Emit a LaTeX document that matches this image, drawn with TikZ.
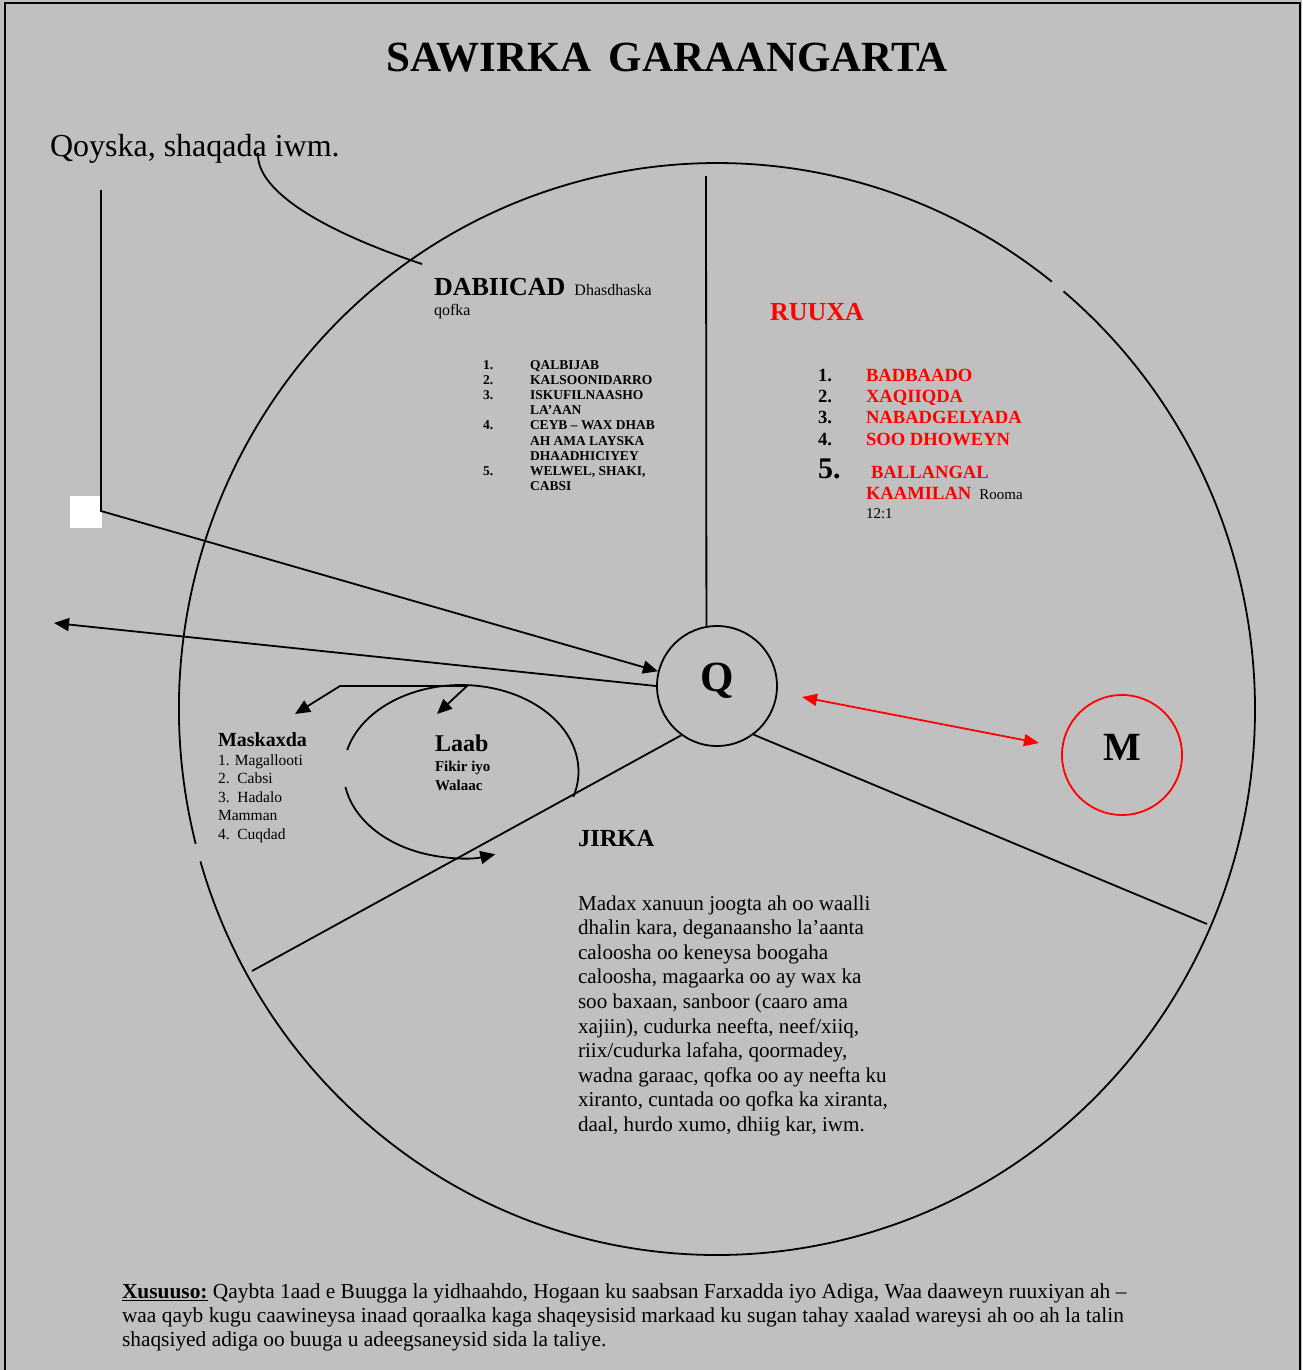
\documentclass[tikz,border=0pt]{standalone}
\usepackage{fontspec}
\setmainfont{Liberation Serif}
\usetikzlibrary{arrows.meta}
\definecolor{bggray}{RGB}{192,192,192}
\definecolor{myred}{RGB}{255,0,0}
\newcommand{\myfs}[2]{\fontsize{#1}{#2}\selectfont}
\begin{document}
\begin{tikzpicture}[x=1pt,y=-1pt,line width=1.8pt,
  txt/.style={anchor=base west,inner sep=0pt,outer sep=0pt},
  arr/.style={-{Triangle[length=15pt,width=13pt]}},
  rarr/.style={{Triangle[length=15pt,width=12pt]}-{Triangle[length=15pt,width=12pt]},draw=myred},
  bigc/.style={circle,draw,minimum size=120pt,inner sep=0pt,line width=1.8pt}]
\useasboundingbox (0,0) rectangle (1302,1370);
\fill[bggray] (0,0) rectangle (1302,1370);
\draw[line width=2.5pt] (5,1372) -- (5,3) -- (1300,3) -- (1300,1372);

% big ellipse with two gaps
\draw (717,709) ++({538*cos(-49.9)},{546*sin(-49.9)}) arc[start angle=-49.9,end angle=163.8,x radius=538,y radius=546];
\draw (717,709) ++({538*cos(165.7)},{546*sin(165.7)}) arc[start angle=165.7,end angle=308.5,x radius=538,y radius=546];

% nodes
\node[bigc,label={[inner sep=0pt,yshift=5pt,font=\myfs{43}{43}\bfseries]center:Q}] (Q) at (717,686) {};
\node[bigc,draw=myred,label={[inner sep=0pt,yshift=8pt,font=\myfs{40}{40}\bfseries]center:M}] (M) at (1122,755) {};
\node[fill=white,minimum size=32pt,inner sep=0pt] (sq) at (86,512) {};

% coordinates
\coordinate (vtop) at (706,176);
\coordinate (ll) at (252,971);
\coordinate (lr) at (1207,924);
\coordinate (sqtop) at (101,190);
\coordinate (sqc) at (101,511);
\coordinate (larr) at (54,623);
\coordinate (ra1) at (802,697);
\coordinate (ra2) at (1039,743);
\coordinate (cs) at (258,153);
\coordinate (ce) at (422,264);
\coordinate (b1) at (340,686);
\coordinate (b2) at (467,686);
\coordinate (m1) at (295,714);
\coordinate (l1) at (437,714);

% connectors
\draw (Q.100) -- (vtop);
\draw (Q.234) -- (ll);
\draw (Q.307) -- (lr);
\draw[arr] (sqtop) -- (sqc) -- (Q.166);
\draw[arr] (Q.west) -- (larr);
\draw[rarr] (ra1) -- (ra2);
\draw (cs) .. controls (256,190) and (320,230) .. (ce);
\draw[{Triangle[length=15pt,width=13pt]}-{Triangle[length=15pt,width=13pt]}] (m1) -- (b1) -- (b2) -- (l1);

% Laab ellipse
\draw (461,771.5) ++({117.5*cos(194.4)},{86.5*sin(194.4)}) arc[start angle=194.4,end angle=377.1,x radius=117.5,y radius=86.5];
\draw[arr] (461,771.5) ++({117.5*cos(169.7)},{86.5*sin(169.7)}) arc[start angle=169.7,end angle=73,x radius=117.5,y radius=86.5];

% texts
\node[anchor=base,inner sep=0pt] (title) at (667,72) {\myfs{43}{43}\bfseries SAWIRKA\hspace{17pt}GARAANGARTA};
\node[txt] (qoy) at (50,157) {\myfs{32}{32}Qoyska, shaqada iwm.};

\node[txt] (dab) at (434,295) {\myfs{26}{26}\textbf{DABIICAD}\hspace{9pt}{\myfs{16}{16}Dhasdhaska}};
\node[txt] (dab2) at (434,315) {\myfs{16}{16}qofka};
\node[txt] (dlist) at (483,369) {\myfs{13.5}{15.2}\bfseries\begin{tabular}[t]{@{}p{47pt}@{}l@{}}
1.&QALBIJAB\\
2.&KALSOONIDARRO\\
3.&ISKUFILNAASHO\\
&LA’AAN\\
4.&CEYB – WAX DHAB\\
&AH AMA LAYSKA\\
&DHAADHICIYEY\\
5.&WELWEL, SHAKI,\\
&CABSI
\end{tabular}};

\node[txt,text=myred] (ruuxa) at (770,320) {\myfs{26}{26}\bfseries RUUXA};
\node[txt] (rlist) at (818,381) {\myfs{18.6}{21.4}\bfseries\begin{tabular}[t]{@{}p{48pt}@{}l@{}}
1.&\textcolor{myred}{BADBAADO}\\
2.&\textcolor{myred}{XAQIIQDA}\\
3.&\textcolor{myred}{NABADGELYADA}\\
4.&\textcolor{myred}{SOO DHOWEYN}
\end{tabular}};
\node[txt] (r5) at (818,478) {\myfs{30}{30}\bfseries 5.};
\node[txt,text=myred] (r5a) at (871,478) {\myfs{18.6}{18.6}\bfseries BALLANGAL};
\node[txt] (r5b) at (866,499.5) {\myfs{18.6}{18.6}\textcolor{myred}{\bfseries KAAMILAN}\hspace{8pt}{\myfs{15}{15}Rooma}};
\node[txt] (r5c) at (866,518.5) {\myfs{15}{15}12:1};

\node[txt] (mask) at (218,746.7) {\myfs{20}{20}\bfseries Maskaxda};
\node[txt] (mlist) at (218,765) {\myfs{15.5}{18.6}\begin{tabular}[t]{@{}l@{}}
1. Magallooti\\
2.\ \ Cabsi\\
3.\ \ Hadalo\\
Mamman\\
4.\ \ Cuqdad
\end{tabular}};

\node[txt] (laab) at (435,751) {\myfs{24}{24}\bfseries Laab};
\node[txt] (laab2) at (435,771.7) {\myfs{15}{18.4}\bfseries\begin{tabular}[t]{@{}l@{}}
Fikir iyo\\
Walaac
\end{tabular}};

\node[txt] (jirka) at (578,846.7) {\myfs{24.5}{24.5}\bfseries JIRKA};
\node[txt] (jtext) at (578,910) {\myfs{21.1}{24.6}\begin{tabular}[t]{@{}l@{}}
Madax xanuun joogta ah oo waalli\\
dhalin kara, deganaansho la’aanta\\
caloosha oo keneysa boogaha\\
caloosha, magaarka oo ay wax ka\\
soo baxaan, sanboor (caaro ama\\
xajiin), cudurka neefta, neef/xiiq,\\
riix/cudurka lafaha, qoormadey,\\
wadna garaac, qofka oo ay neefta ku\\
xiranto, cuntada oo qofka ka xiranta,\\
daal, hurdo xumo, dhiig kar, iwm.
\end{tabular}};

\node[txt] (foot) at (122,1298) {\myfs{21.4}{24}\begin{tabular}[t]{@{}l@{}}
\underline{\textbf{Xusuuso:}} Qaybta 1aad e Buugga la yidhaahdo, Hogaan ku saabsan Farxadda iyo Adiga, Waa daaweyn ruuxiyan ah –\\
waa qayb kugu caawineysa inaad qoraalka kaga shaqeysisid markaad ku sugan tahay xaalad wareysi ah oo ah la talin\\
shaqsiyed adiga oo buuga u adeegsaneysid sida la taliye.
\end{tabular}};
\end{tikzpicture}
\end{document}
